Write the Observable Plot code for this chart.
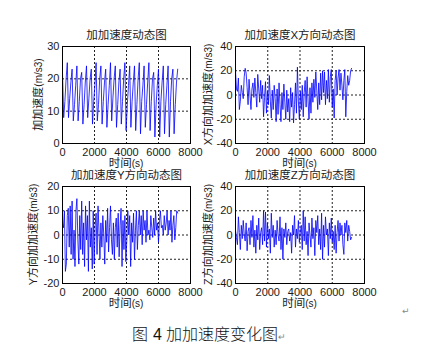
<!DOCTYPE html>
<html>
<head>
<meta charset="utf-8">
<script src="https://cdn.jsdelivr.net/npm/d3@7"></script>
<script src="https://cdn.jsdelivr.net/npm/@observablehq/plot@0.6"></script>
<style>
  body { margin: 0; background: #fff; }
  #wrap { position: relative; width: 435px; height: 356px; overflow: hidden;
          font-family: "Liberation Sans", Arial, "Noto Sans CJK SC", sans-serif; }
  .panel { position: absolute; }
  #caption { position: absolute; left: 132px; top: 321px; font-size: 16px; color: #111;
             font-family: "Noto Sans CJK SC", sans-serif; font-weight: 300; white-space: pre; line-height: 24px; }
  #caption .num { font-family: 'Liberation Sans', sans-serif; font-weight: 400; margin: 0 4px 0 5px; }
  .ret { font-size: 9px; color: #888; font-family: "DejaVu Sans", sans-serif; }
  #ret2 { position: absolute; left: 402px; top: 306px; }
</style>
</head>
<body>
<div id="wrap">
  <div id="caption">图<span class="num">4</span>加加速度变化图<span class="ret">↵</span></div>
  <div id="ret2" class="ret">↵</div>
</div>
<script>
// ---- data ----
const xTicks = [0, 2000, 4000, 6000, 8000];
const xLabelMain = "时间";
const xLabelUnit = "(s)";

const jerkStep = 75;      // seconds between samples, total jerk
const axisStep = 60;      // seconds between samples, X/Y/Z jerk

const jerkTotal = [22,
  8,13,20,25, 8,14,19,23, 7,12,18,24, 7,13,20,22, 6,12,19,24, 8,14,20,23,
  6,13,18,25, 7,12,20,24, 6,13,19,23, 5,12,18,25, 7,14,20,24, 5,12,19,23,
  6,13,20,25, 4,12,18,24, 5,13,19,24, 4,12,20,25, 3,13,18,24, 5,12,19,25,
  4,13,20,22, 2,12,18,23, 2,13,19,24, 3,12,18,24, 2,13,20,23, 3,12,19,23];

const jerkX = [20, 5, 3, 14, -12, -5, 8, 2, -3, 15, 22,
  18, 6, -8, 13, 0, -12, 5, 10, -2, 14,
  2, -10, 17, 5, -6, 12, -3, 8, -18, -2,
  11, -15, 3, -8, 16, -5, -19, 4, -12, 8,
  -3, -22, 5, -16, 10, -8, -22, 2, -12, 9,
  -6, -20, 4, -14, -3, -22, 6, -10, 2, -23,
  -8, 10, -15, 23, -5, -20, 3, -12, 8, -18,
  2, 12, -10, 15, -5, -20, 6, -15, 10, -6,
  13, -2, 19, 4, -12, 10, -8, 18, -4, 20,
  2, 19, -8, 12, -3, 21, -6, 15, 21, -10,
  5, -19, 12, 20, 0, 14, 21, 4, 18, 8,
  -4, 12, 21, -18, 3, 16, 8, 12, 20, 22];

const jerkY = [5, 3, 10, -15, -12, 8, 11, -5, 12, -8, 14,
  -10, 2, -13, 10, 15, -2, -12, 8, -6, 14,
  -8, 5, -13, 12, -2, 8, -15, 14, -5, 3,
  -14, 10, -12, 4, 9, -8, 12, 2, -10, 5,
  -5, 8, 0, -12, 6, -3, 11, -7, 3, 12,
  -2, -8, 5, -10, 3, 7, -5, 9, -9, 4,
  11, -13, 6, -6, 8, -11, -2, 10, 0, 8,
  -13, 5, -3, 9, -10, 2, 10, -6, 4, 10,
  0, 8, -4, 10, 2, 6, -3, 10, 0, 2,
  -2, 8, 3, -1, 7, 0, 10, 2, 5, -3,
  6, 10, 3, 4, 0, 8, 2, 5, 10, 0,
  6, 2, 10, -3, 4, 8, -2, 3, 10, 9];

const jerkZ = [4, -2, -8, 15, 2, -12, 8, -3, 12, 0, -5,
  10, -13, 3, 6, -8, 12, -2, 16, -10, 4,
  -15, 8, -4, 14, -12, 2, 6, -8, 20, -5,
  19, -10, 10, -3, 5, -15, 18, -2, 8, -10,
  4, -8, 12, 0, -5, 15, -12, 6, -20, 5,
  -2, 10, -8, 3, 5, -5, 2, -15, 8, 0,
  16, -10, 5, -3, 12, -6, 2, 8, -12, 20,
  -5, 15, -8, 3, -17, 10, 0, -10, 14, -3,
  6, -17, 12, 2, 16, -8, 5, -12, 18, -20,
  8, -10, 15, 0, 5, -17, 10, -3, 14, -6,
  3, -12, 8, -15, 2, 12, -5, 10, 0, 8,
  -8, -16, 10, 2, 12, -5, 8, 3, -4, -2];

const titles = ["加加速度动态图", "加加速度X方向动态图", "加加速度Y方向动态图", "加加速度Z方向动态图"];
const yLabelMain = ["加加速度", "X方向加加速度", "Y方向加加速度", "Z方向加加速度"];
const yLabelUnit = "(m/s3)";
const yTicksTotal = [0, 10, 20, 30];
const yTicksX = [-40, -20, 0, 20, 40];
const yTicksY = [-20, -10, 0, 10, 20];
const yTicksZ = [-40, -20, 0, 20, 40];

// ---- drawing ----
const wrap = document.getElementById("wrap");
const FONT = "'Liberation Sans', Arial, 'Noto Sans CJK SC', sans-serif";

function panel({values, step, yTicks, title, yMain, left, top, marginLeft, frameW, yLabelDx}) {
  const data = values.map((v, i) => ({t: i * step, v}));
  const marginTop = 26, marginBottom = 27, marginRight = 22, frameH = 97;
  const chart = Plot.plot({
    width: marginLeft + frameW + marginRight,
    height: marginTop + frameH + marginBottom,
    marginLeft, marginRight, marginTop, marginBottom,
    style: {fontFamily: FONT, fontSize: "11px", color: "#1a1a1a", background: "transparent", overflow: "visible"},
    x: {domain: [0, 8000], ticks: xTicks, tickSize: 0, tickPadding: 5, label: null, tickFormat: d => String(d)},
    y: {domain: [yTicks[0], yTicks[yTicks.length - 1]], ticks: yTicks, tickSize: 0, tickPadding: 3, label: null, tickFormat: d => String(d)},
    marks: [
      Plot.ruleX(xTicks.slice(1, -1), {stroke: "#222", strokeOpacity: 1, strokeDasharray: "2,2", strokeWidth: 1}),
      Plot.ruleY(yTicks.slice(1, -1), {stroke: "#222", strokeOpacity: 1, strokeDasharray: "2,2", strokeWidth: 1}),
      Plot.line(data, {x: "t", y: "v", stroke: "#0000ff", strokeWidth: 0.8}),
      Plot.frame({stroke: "#000", strokeWidth: 1}),
      Plot.text([title], {frameAnchor: "top", dy: -11, fontSize: 11.5, fill: "#1a1a1a", lineAnchor: "middle"})
    ]
  });
  const svg = d3.select(chart);
  // x axis label
  const xl = svg.append("text")
    .attr("x", marginLeft + frameW / 2)
    .attr("y", marginTop + frameH + 20)
    .attr("text-anchor", "middle").attr("dominant-baseline", "central")
    .attr("fill", "#1a1a1a").style("font-family", FONT);
  xl.append("tspan").attr("font-size", 11.5).text(xLabelMain);
  xl.append("tspan").attr("font-size", 10).text(xLabelUnit);
  // y axis label
  const cx = marginLeft + yLabelDx, cy = marginTop + frameH / 2;
  const yl = svg.append("text")
    .attr("transform", `translate(${cx},${cy}) rotate(-90)`)
    .attr("text-anchor", "middle").attr("dominant-baseline", "central")
    .attr("fill", "#1a1a1a").style("font-family", FONT);
  yl.append("tspan").attr("font-size", 11).text(yMain);
  yl.append("tspan").attr("font-size", 10).text(yLabelUnit);

  const div = document.createElement("div");
  div.className = "panel";
  div.style.left = left + "px";
  div.style.top = top + "px";
  div.appendChild(chart);
  wrap.appendChild(div);
}

panel({values: jerkTotal, step: jerkStep, yTicks: yTicksTotal, title: titles[0], yMain: yLabelMain[0],
       left: 0, top: 20, marginLeft: 62, frameW: 128, yLabelDx: -24});
panel({values: jerkX, step: axisStep, yTicks: yTicksX, title: titles[1], yMain: yLabelMain[1],
       left: 195, top: 20, marginLeft: 40, frameW: 129, yLabelDx: -27});
panel({values: jerkY, step: axisStep, yTicks: yTicksY, title: titles[2], yMain: yLabelMain[2],
       left: 0, top: 160, marginLeft: 62, frameW: 128, yLabelDx: -29});
panel({values: jerkZ, step: axisStep, yTicks: yTicksZ, title: titles[3], yMain: yLabelMain[3],
       left: 195, top: 160, marginLeft: 40, frameW: 129, yLabelDx: -27});
</script>
</body>
</html>
